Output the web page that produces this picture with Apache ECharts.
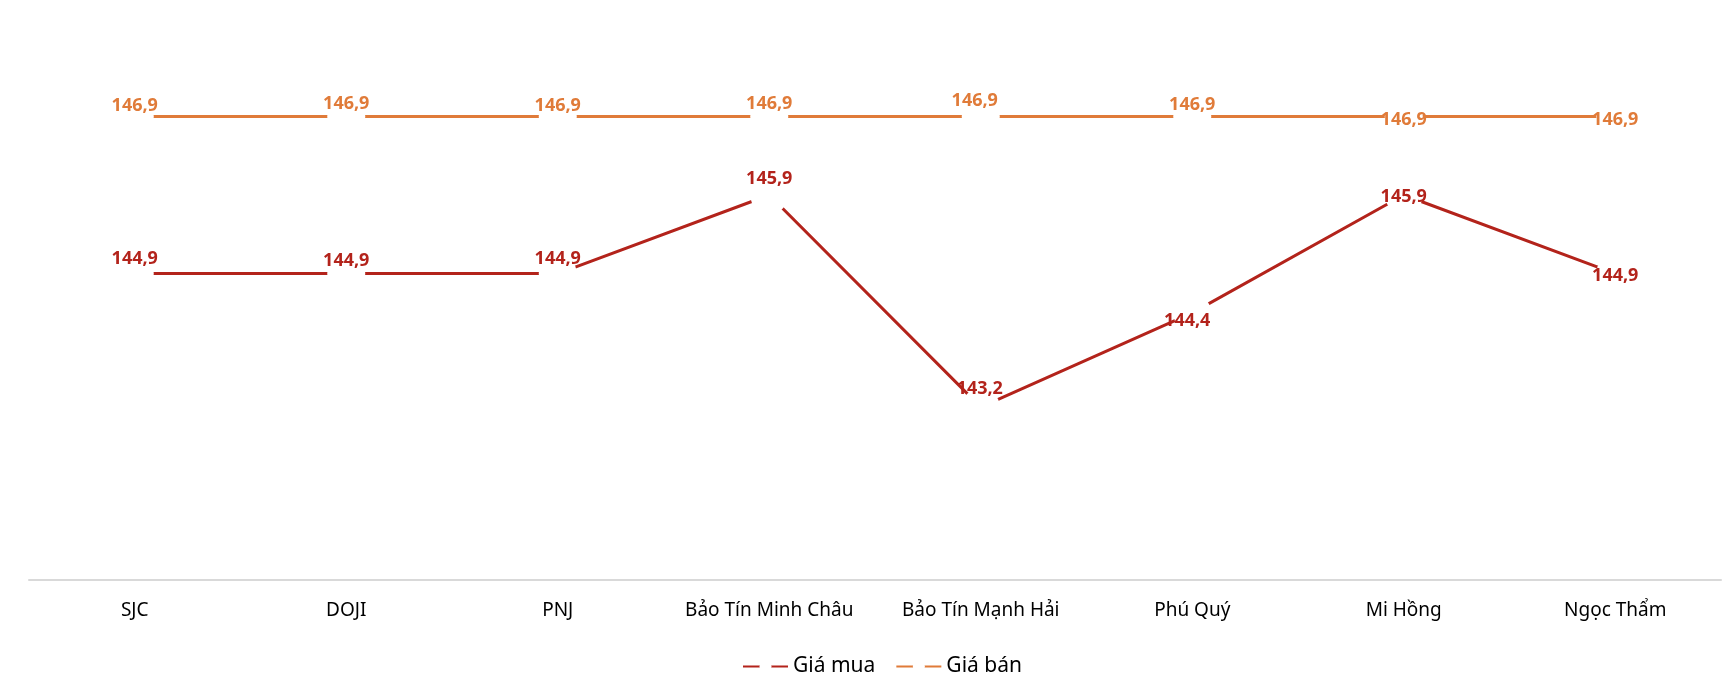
<!DOCTYPE html>
<html>
<head>
<meta charset="utf-8">
<script src="https://cdn.jsdelivr.net/npm/echarts@6/dist/echarts.min.js"></script>
<style>
html,body{margin:0;padding:0;background:#fff;}
#chart{width:1732px;height:680px;}
</style>
</head>
<body>
<div id="chart"></div>
<script>
// ---- data ----
const categories = ['SJC', 'DOJI', 'PNJ', 'Bảo Tín Minh Châu', 'Bảo Tín Mạnh Hải', 'Phú Quý', 'Mi Hồng', 'Ngọc Thẩm'];
const buyPrices  = [144.9, 144.9, 144.9, 145.9, 143.2, 144.4, 145.9, 144.9];
const sellPrices = [146.9, 146.9, 146.9, 146.9, 146.9, 146.9, 146.9, 146.9];
const seriesNames = ['Giá mua', 'Giá bán'];

// label placement (pixel offsets from each point), kept apart from the values
const buyLabelOffsets  = [[0,-15],[0,-13],[0,-15],[0,-16],[-1,-18],[-5,8],[0,2],[0,2]];
const sellLabelOffsets = [[0,-11],[0,-13],[0,-11],[0,-13],[-6,-16],[0,-12],[0,3],[0,3]];

const RED = '#B3231B';
const ORANGE = '#E07B39';
const FONT = 'Noto Sans';

function fmt(v){ return v.toFixed(1).replace('.', ','); }

function buildData(values, offsets){
  return values.map((v, i) => ({
    value: v,
    label: { offset: offsets[i] }
  }));
}

function makeSeries(name, values, offsets, color){
  return {
    name: name,
    type: 'line',
    data: buildData(values, offsets),
    symbol: 'circle',
    symbolSize: 38,
    showSymbol: true,
    itemStyle: { color: '#ffffff', borderWidth: 0 },
    lineStyle: { color: color, width: 3 },
    emphasis: { disabled: true },
    label: {
      show: true,
      position: 'inside',
      color: color,
      fontFamily: FONT,
      fontWeight: 'bold',
      fontSize: 18,
      formatter: p => fmt(p.value)
    },
    animation: false
  };
}

const chart = echarts.init(document.getElementById('chart'), null, {renderer: 'canvas'});
chart.setOption({
  backgroundColor: '#ffffff',
  animation: false,
  grid: { left: 29, right: 11, top: 30, bottom: 100, containLabel: false },
  legend: {
    data: seriesNames,
    left: 737,
    top: 651,
    itemWidth: 45,
    itemHeight: 15,
    itemGap: 20,
    textStyle: { fontFamily: FONT, fontSize: 21, color: '#000' }
  },
  xAxis: {
    type: 'category',
    data: categories,
    boundaryGap: true,
    axisTick: { show: false },
    axisLine: { lineStyle: { color: '#D9D9D9', width: 2 } },
    axisLabel: { fontFamily: FONT, fontSize: 19, color: '#000', margin: 21, interval: 0 }
  },
  yAxis: {
    type: 'value',
    min: 141,
    max: 148,
    interval: 1,
    show: false,
    splitLine: { show: false }
  },
  series: [
    makeSeries(seriesNames[0], buyPrices, buyLabelOffsets, RED),
    makeSeries(seriesNames[1], sellPrices, sellLabelOffsets, ORANGE)
  ]
});
</script>
</body>
</html>
